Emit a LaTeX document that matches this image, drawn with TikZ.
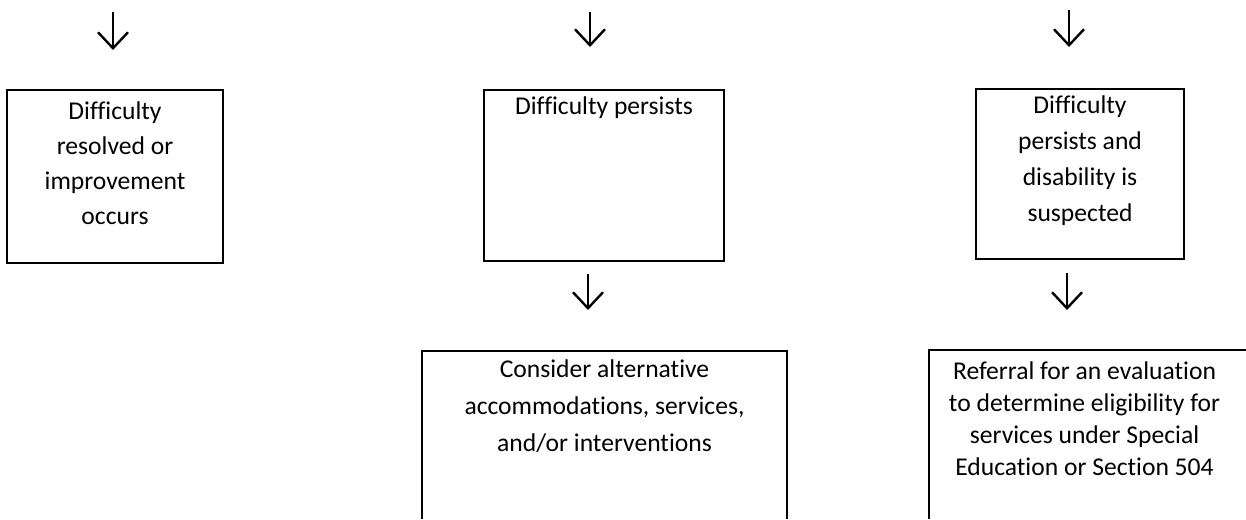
\documentclass[tikz,border=0pt]{standalone}
\usepackage{fontspec}
\setmainfont[Ligatures=CommonOff]{Carlito}
\usetikzlibrary{arrows.meta}
\begin{document}
\begin{tikzpicture}[x=1pt,y=-1pt,
  box/.style={draw, line width=2.2pt, inner sep=0pt},
  txt/.style={align=center, inner sep=0pt, anchor=north},
  arr/.style={line width=2.4pt, -{Straight Barb[length=16pt,width=30pt]}}]
\useasboundingbox (0,0) rectangle (1246,519);
% top arrows
\coordinate (a1s) at (113,12); \coordinate (a1e) at (113,50);
\coordinate (a2s) at (590,12); \coordinate (a2e) at (590,47);
\coordinate (a3s) at (1069,10); \coordinate (a3e) at (1069,47);
\draw[arr] (a1s) -- (a1e);
\draw[arr] (a2s) -- (a2e);
\draw[arr] (a3s) -- (a3e);
% first row boxes
\node[box, minimum width=216pt, minimum height=173pt] (b1) at (115,176.5) {};
\node[box, minimum width=240pt, minimum height=171pt] (b2) at (604,175.5) {};
\node[box, minimum width=208pt, minimum height=170pt] (b3) at (1080,174) {};
\node[txt, font=\fontsize{25.6}{35}\selectfont] (t1) at (115,102) {Difficulty\\resolved or\\improvement\\occurs};
\node[txt, font=\fontsize{25.6}{35}\selectfont] (t2) at (604,97) {Difficulty persists};
\node[txt, font=\fontsize{25.6}{36}\selectfont] (t3) at (1080,96) {Difficulty\\persists and\\disability is\\suspected};
% middle arrows
\coordinate (m2s) at (588,274); \coordinate (m2e) at (588,310);
\coordinate (m3s) at (1067,273); \coordinate (m3e) at (1067,310);
\draw[arr] (m2s) -- (m2e);
\draw[arr] (m3s) -- (m3e);
% bottom boxes (open at the page edges)
\coordinate (b4a) at (422,519); \coordinate (b4b) at (422,351);
\coordinate (b4c) at (787,351); \coordinate (b4d) at (787,519);
\draw[line width=2.2pt] (b4a) -- (b4b) -- (b4c) -- (b4d);
\coordinate (b5a) at (929,519); \coordinate (b5b) at (929,350);
\coordinate (b5c) at (1246,350);
\draw[line width=2.2pt] (b5a) -- (b5b) -- (b5c);
\node[txt, font=\fontsize{25.6}{37}\selectfont] (t4) at (604.5,360) {Consider alternative\\accommodations, services,\\and/or interventions};
\node[txt, font=\fontsize{25.6}{32}\selectfont] (t5) at (1084.5,362) {Referral for an evaluation\\to determine eligibility for\\services under Special\\Education or Section 504};
\end{tikzpicture}
\end{document}
